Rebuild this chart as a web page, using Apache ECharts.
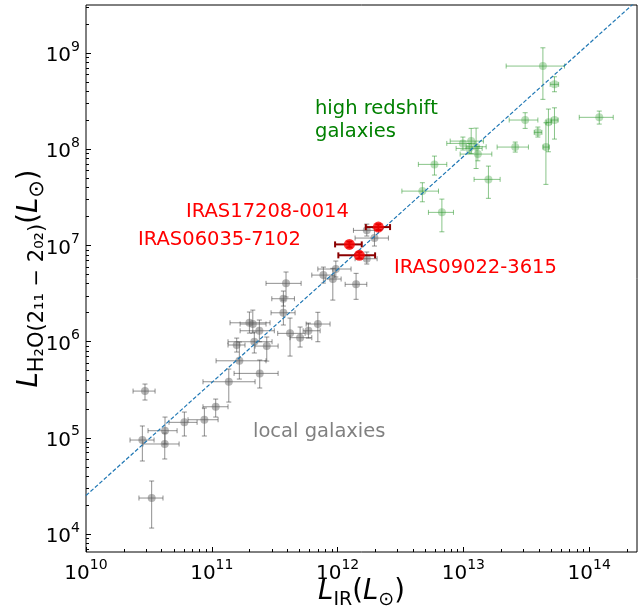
<!DOCTYPE html>
<html><head><meta charset="utf-8">
<script src="https://cdn.jsdelivr.net/npm/echarts@6/dist/echarts.min.js"></script>
<style>html,body{margin:0;padding:0;background:#fff}#c{width:643px;height:608px}</style>
</head><body><div id="c"></div>
<script>
// All values are log10 of luminosity in L_sun
const xMajorTicks = [10, 11, 12, 13, 14];
const yMajorTicks = [4, 5, 6, 7, 8, 9];

// local galaxies (gray)
const localLIR = [10.469,10.448,10.626,10.628,10.782,10.941,11.031,11.135,11.219,11.381,10.522,11.198,11.338,11.437,11.299,11.326,11.378,11.622,11.702,11.768,11.843,11.569,11.569,11.590,11.887,11.986,11.962,12.147,12.232,12.293,12.232];
const localH2O = [5.486,4.977,4.936,5.074,5.161,5.188,5.323,5.583,5.801,5.670,4.374,5.965,5.999,5.954,6.196,6.183,6.113,6.086,6.041,6.113,6.183,6.300,6.446,6.606,6.692,6.755,6.651,6.596,7.157,7.077,6.862];
const localLIRRange = [[10.374,10.549],[10.350,10.541],[10.453,10.740],[10.493,10.724],[10.660,10.883],[10.811,11.050],[10.930,11.129],[10.930,11.344],[11.034,11.431],[11.177,11.527],[10.421,10.612],[11.129,11.264],[11.129,11.479],[11.344,11.527],[11.145,11.463],[11.225,11.431],[11.225,11.497],[11.524,11.742],[11.622,11.795],[11.726,11.861],[11.750,11.940],[11.471,11.662],[11.477,11.657],[11.431,11.710],[11.795,11.975],[11.843,12.107],[11.901,12.028],[12.060,12.232],[12.126,12.325],[12.139,12.404],[12.139,12.314]];
const localH2ORange = [[5.393,5.559],[4.759,5.123],[4.780,5.050],[4.936,5.216],[5.019,5.268],[5.019,5.310],[5.216,5.403],[5.372,5.715],[5.611,5.996],[5.518,5.809],[4.062,4.551],[5.892,6.037],[5.882,6.100],[5.798,6.048],[6.089,6.308],[6.089,6.328],[5.999,6.225],[5.850,6.245],[5.944,6.152],[6.037,6.193],[5.999,6.305],[6.173,6.432],[6.370,6.526],[6.464,6.724],[6.609,6.775],[6.672,6.838],[6.432,6.762],[6.440,6.710],[7.098,7.222],[6.994,7.181],[6.807,6.932]];

// high redshift galaxies (green)
const hizLIR = [13.632,13.724,13.491,14.080,13.592,13.676,13.724,13.656,13.412,12.996,13.062,13.101,13.046,13.115,12.770,13.199,12.674,12.829];
const hizH2O = [8.865,8.675,8.304,8.332,8.176,8.280,8.304,8.023,8.023,8.061,8.085,8.026,8.009,7.950,7.843,7.687,7.565,7.344];
const hizLIRRange = [[13.340,13.804],[13.690,13.757],[13.364,13.592],[13.921,14.191],[13.563,13.624],[13.658,13.698],[13.698,13.753],[13.634,13.682],[13.268,13.517],[12.868,13.093],[12.895,13.159],[13.022,13.181],[12.942,13.149],[12.974,13.226],[12.642,12.868],[13.085,13.292],[12.511,12.802],[12.722,12.921]];
const hizH2ORange = [[8.519,9.055],[8.598,8.754],[8.217,8.380],[8.262,8.397],[8.127,8.231],[7.974,8.418],[8.106,8.431],[7.635,8.276],[7.971,8.075],[7.992,8.127],[7.957,8.217],[7.800,8.220],[7.960,8.060],[7.880,8.030],[7.732,7.929],[7.490,7.825],[7.454,7.652],[7.142,7.482]];

// IRAS sources (red)
const irasNames = ['IRAS17208-0014','IRAS06035-7102','IRAS09022-3615'];
const irasLIR = [12.324,12.094,12.173];
const irasH2O = [7.191,7.011,6.897];
const irasLIRRange = [[12.224,12.417],[11.980,12.192],[12.006,12.298]];
const irasH2ORange = [[7.160,7.220],[6.980,7.040],[6.865,6.930]];

// dashed fit line endpoints
const fitLIR = [10.0, 14.40];
const fitH2O = [4.40, 9.57];

const X_MIN = 10, X_MAX = 14.38, Y_MIN = 3.813, Y_MAX = 9.5;
const FONT = 'DejaVu Sans';

function minorTicks(lo, hi) {
  const out = [];
  for (let n = Math.floor(lo) - 1; n <= Math.ceil(hi); n++) {
    for (let k = 2; k <= 9; k++) {
      const v = n + Math.log10(k);
      if (v > lo && v < hi) out.push(v);
    }
  }
  return out;
}

function build(xs, ys, xr, yr) {
  return xs.map((x, i) => [x, ys[i], xr[i][0], xr[i][1], yr[i][0], yr[i][1]]);
}

function errRender(color, width, cap) {
  return function (params, api) {
    const x = api.value(0), y = api.value(1);
    const a = api.coord([api.value(2), y]), b = api.coord([api.value(3), y]);
    const c = api.coord([x, api.value(4)]), d = api.coord([x, api.value(5)]);
    const st = { stroke: color, lineWidth: width, fill: null };
    const L = (x1, y1, x2, y2) => ({ type: 'line', shape: { x1, y1, x2, y2 }, style: st });
    return {
      type: 'group',
      children: [
        L(a[0], a[1], b[0], b[1]),
        L(c[0], c[1], d[0], d[1]),
        L(a[0], a[1] - cap, a[0], a[1] + cap),
        L(b[0], b[1] - cap, b[0], b[1] + cap),
        L(c[0] - cap, c[1], c[0] + cap, c[1]),
        L(d[0] - cap, d[1], d[0] + cap, d[1])
      ]
    };
  };
}

const localData = build(localLIR, localH2O, localLIRRange, localH2ORange);
const hizData = build(hizLIR, hizH2O, hizLIRRange, hizH2ORange);
const irasData = build(irasLIR, irasH2O, irasLIRRange, irasH2ORange);

const tickRich = {
  b: { fontSize: 20, fontFamily: FONT, color: '#000', lineHeight: 26, verticalAlign: 'bottom' },
  s: { fontSize: 14, fontFamily: FONT, color: '#000', lineHeight: 26, verticalAlign: 'top' }
};
const tickFmt = v => '{b|10}{s|' + Math.round(v) + '}';
function nameRich(sub) {
  return {
    i: { fontSize: 27.5, fontStyle: 'italic', fontFamily: FONT, color: '#000', lineHeight: 32, verticalAlign: 'top' },
    n: { fontSize: 27.5, fontFamily: FONT, color: '#000', lineHeight: 32, verticalAlign: 'top' },
    sub: { fontSize: sub, fontFamily: FONT, color: '#000', lineHeight: 32, verticalAlign: 'bottom' }
  };
}

const chart = echarts.init(document.getElementById('c'), null, { renderer: 'canvas' });
chart.setOption({
  animation: false,
  backgroundColor: '#fff',
  grid: { left: 86, right: 6, top: 5, bottom: 56, containLabel: false, outerBoundsMode: 'none',
          show: true, borderColor: '#000', borderWidth: 1, backgroundColor: 'transparent' },
  xAxis: [
    {
      type: 'value', min: X_MIN, max: X_MAX, position: 'bottom',
      axisLine: { show: false },
      axisTick: { show: true, inside: true, length: 5, customValues: xMajorTicks, lineStyle: { color: '#000', width: 1 } },
      axisLabel: { show: true, customValues: xMajorTicks, formatter: tickFmt, rich: tickRich, margin: 6 },
      splitLine: { show: false },
      name: '{i|L}{sub|IR}{n|(}{i|L}{sub|⊙}{n|)}',
      nameLocation: 'middle', nameGap: 26, nameMoveOverlap: false,
      nameTextStyle: { rich: nameRich(19) }
    },
    {
      type: 'value', min: X_MIN, max: X_MAX, position: 'bottom',
      axisLine: { show: false },
      axisTick: { show: true, inside: true, length: 3, customValues: minorTicks(X_MIN, X_MAX), lineStyle: { color: '#000', width: 1 } },
      axisLabel: { show: false },
      splitLine: { show: false }
    }
  ],
  yAxis: [
    {
      type: 'value', min: Y_MIN, max: Y_MAX, position: 'left',
      axisLine: { show: false },
      axisTick: { show: true, inside: true, length: 5, customValues: yMajorTicks, lineStyle: { color: '#000', width: 1 } },
      axisLabel: { show: true, customValues: yMajorTicks, formatter: tickFmt, rich: tickRich, margin: 6 },
      splitLine: { show: false },
      name: '{i|L}{sub|H₂O(2₁₁ − 2₀₂)}{n|(}{i|L}{sub|⊙}{n|)}',
      nameLocation: 'middle', nameGap: 38, nameRotate: 90, nameMoveOverlap: false,
      nameTextStyle: { rich: nameRich(21) }
    },
    {
      type: 'value', min: Y_MIN, max: Y_MAX, position: 'left',
      axisLine: { show: false },
      axisTick: { show: true, inside: true, length: 3, customValues: minorTicks(Y_MIN, Y_MAX), lineStyle: { color: '#000', width: 1 } },
      axisLabel: { show: false },
      splitLine: { show: false }
    }
  ],
  series: [
    { type: 'custom', name: 'local err', xAxisIndex: 0, yAxisIndex: 0, data: localData, encode: { x: 0, y: 1 },
      renderItem: errRender('rgba(70,70,70,0.6)', 1, 2.5), z: 2, silent: true },
    { type: 'scatter', name: 'local', xAxisIndex: 0, yAxisIndex: 0, data: localData.map(d => [d[0], d[1]]),
      symbol: 'circle', symbolSize: 8, itemStyle: { color: 'rgba(100,100,100,0.6)' }, z: 3 },
    { type: 'custom', name: 'hiz err', xAxisIndex: 0, yAxisIndex: 0, data: hizData, encode: { x: 0, y: 1 },
      renderItem: errRender('rgba(40,150,40,0.55)', 1, 2.5), z: 2, silent: true },
    { type: 'scatter', name: 'hiz', xAxisIndex: 0, yAxisIndex: 0, data: hizData.map(d => [d[0], d[1]]),
      symbol: 'circle', symbolSize: 8, itemStyle: { color: 'rgba(60,160,60,0.45)' }, z: 3 },
    { type: 'line', name: 'fit', xAxisIndex: 0, yAxisIndex: 0, data: fitLIR.map((x, i) => [x, fitH2O[i]]),
      symbol: 'none', clip: true, lineStyle: { color: '#1f77b4', width: 1.2, type: [4, 2] }, z: 4, silent: true },
    { type: 'custom', name: 'iras err', xAxisIndex: 0, yAxisIndex: 0, data: irasData, encode: { x: 0, y: 1 },
      renderItem: errRender('#8b0000', 2, 3), z: 5, silent: true },
    { type: 'scatter', name: 'iras', xAxisIndex: 0, yAxisIndex: 0, data: irasData.map(d => [d[0], d[1]]),
      symbol: 'circle', symbolSize: 11, itemStyle: { color: '#ff0000' }, z: 6 }
  ],
  graphic: [
    { type: 'text', left: 315, top: 97, style: { text: 'high redshift\ngalaxies', fill: '#008000', font: '19.5px "DejaVu Sans"', lineHeight: 23 } },
    { type: 'text', left: 186, top: 202, style: { text: irasNames[0], fill: '#ff0000', font: '19.5px "DejaVu Sans"' } },
    { type: 'text', left: 138, top: 230, style: { text: irasNames[1], fill: '#ff0000', font: '19.5px "DejaVu Sans"' } },
    { type: 'text', left: 394, top: 258, style: { text: irasNames[2], fill: '#ff0000', font: '19.5px "DejaVu Sans"' } },
    { type: 'text', left: 253, top: 422, style: { text: 'local galaxies', fill: '#808080', font: '19.5px "DejaVu Sans"' } }
  ]
});
</script>
</body></html>
